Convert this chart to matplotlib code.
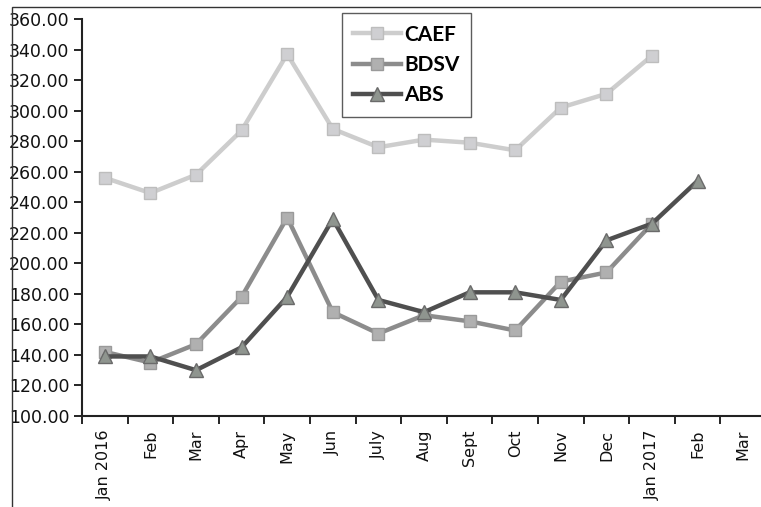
import matplotlib
matplotlib.use("Agg")
import matplotlib.pyplot as plt
from matplotlib.patches import Rectangle
import numpy as np

months = ["Jan 2016", "Feb", "Mar", "Apr", "May", "Jun", "July", "Aug",
          "Sept", "Oct", "Nov", "Dec", "Jan 2017", "Feb", "Mar"]
caef = [256, 246, 258, 287, 337, 288, 276, 281, 279, 274, 302, 311, 336]
bdsv = [142, 135, 147, 178, 230, 168, 154, 166, 162, 156, 188, 194, 226]
abs_ = [139, 139, 130, 145, 178, 229, 176, 168, 181, 181, 176, 215, 226, 254]
yticks = [100, 120, 140, 160, 180, 200, 220, 240, 260, 280, 300, 320, 340, 360]

W, H = 761, 507
fig = plt.figure(figsize=(W / 100, H / 100), dpi=100)
plt.rcParams['font.family'] = ['DejaVu Sans']

# outer chart frame
fig.patches.append(Rectangle((12 / W, -0.1), 1.2, (H - 7) / H + 0.1,
                             transform=fig.transFigure, fill=False,
                             edgecolor='#333333', linewidth=1.0))

left, right = 82, 766
top, bottom = 19, 416
ax = fig.add_axes([left / W, 1 - bottom / H, (right - left) / W, (bottom - top) / H])

x = np.arange(len(months))
ax.plot(x[:len(caef)], caef, color='#cdcdcd', lw=3.2, marker='s', ms=8,
        mfc='#cfcfd2', mec='#bdbdbd', label='CAEF')
ax.plot(x[:len(bdsv)], bdsv, color='#8c8c8c', lw=3.2, marker='s', ms=8,
        mfc='#b0b0b0', mec='#9a9a9a', label='BDSV')
ax.plot(x[:len(abs_)], abs_, color='#4f4f4f', lw=3.2, marker='^', ms=10,
        mfc='#8f958f', mec='#6a6a6a', label='ABS')

ax.set_xlim(-0.5, len(months) - 0.5)
ax.set_ylim(100, 360)
ax.set_yticks(yticks)
ax.set_yticklabels([f"{v:.2f}" for v in yticks], fontsize=12.5, color='#111111')
ax.tick_params(axis='y', direction='out', length=6, width=1.2, pad=3)

ax.set_xticks(x)
ax.set_xticklabels(months, rotation=90, fontsize=11.5, color='#111111')
ax.tick_params(axis='x', which='major', length=0, pad=10)
ax.set_xticks(np.arange(-0.5, len(months), 1), minor=True)
ax.tick_params(axis='x', which='minor', direction='out', length=6, width=1.2)

for s in ['top', 'right']:
    ax.spines[s].set_visible(False)
for s in ['left', 'bottom']:
    ax.spines[s].set_linewidth(1.5)
    ax.spines[s].set_color('#222222')

leg = ax.legend(loc='upper left', bbox_to_anchor=((342 - left) / (right - left), 1.015),
                prop={'family': 'Lato', 'weight': 'bold', 'size': 15},
                frameon=True, fancybox=False, edgecolor='#333333',
                handlelength=2.3, handletextpad=0.15, labelspacing=0.5,
                borderpad=0.55, borderaxespad=0)
leg.get_frame().set_linewidth(1.0)

fig.savefig("out.png", dpi=100)
